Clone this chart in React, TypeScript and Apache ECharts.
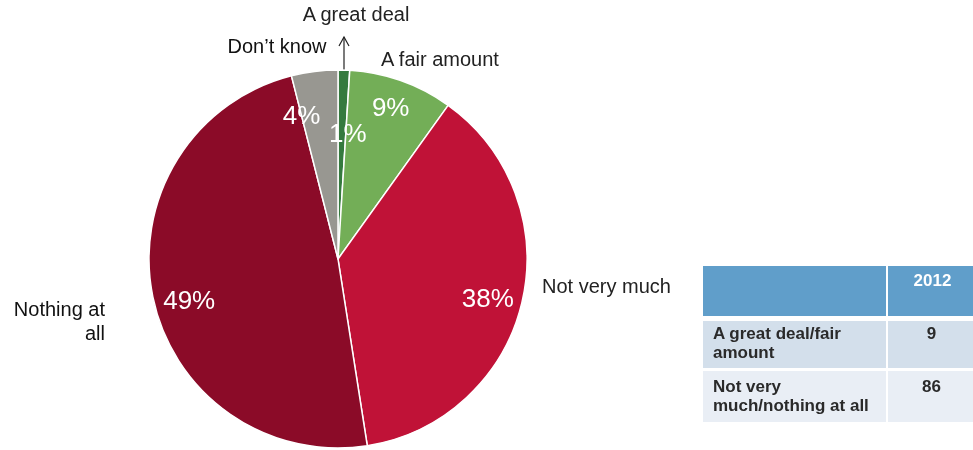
import React, { useEffect, useRef } from "react";
import * as echarts from "echarts";

const categories = ["A great deal", "A fair amount", "Not very much", "Nothing at all", "Don't know"];
const values = [1, 9, 38, 49, 4];
const sliceColors = ["#357a3e", "#73ae57", "#c01237", "#8b0b28", "#989791"];

const tableHeader = ["", "2012"];
const tableRowLabels = ["A great deal/fair\namount", "Not very\nmuch/nothing at all"];
const tableRowValues = ["9", "86"];

// label nudges (layout only)
const labelNudge = [
  [5, 31],
  [0, -4],
  [-3, 3],
  [5, 9],
  [-17, 12],
];

const FONT = "Liberation Sans, Arial, sans-serif";

export default function App() {
  const ref = useRef<HTMLDivElement>(null);
  useEffect(() => {
    if (!ref.current) return;
    const chart = echarts.init(ref.current, undefined, { renderer: "svg" });
    const data = categories.map((c, i) => ({ name: c, value: values[i], itemStyle: { color: sliceColors[i] } }));
    const center = [338, 259];
    const labelTextStyle = { fill: "#222", fontSize: 20, fontFamily: FONT };

    const graphic: any[] = [
      { type: "text", x: 356, y: 14, style: { ...labelTextStyle, text: "A great deal", align: "center", verticalAlign: "middle" } },
      { type: "text", x: 277, y: 46, style: { ...labelTextStyle, fill: "#111", text: "Don\u2019t know", align: "center", verticalAlign: "middle" } },
      { type: "text", x: 440, y: 59, style: { ...labelTextStyle, text: "A fair amount", align: "center", verticalAlign: "middle" } },
      { type: "text", x: 542, y: 286, style: { ...labelTextStyle, text: "Not very much", align: "left", verticalAlign: "middle" } },
      { type: "text", x: 105, y: 321, style: { ...labelTextStyle, fill: "#111", text: "Nothing at\nall", align: "right", verticalAlign: "middle", lineHeight: 24 } },
      { type: "line", shape: { x1: 344, y1: 72, x2: 344, y2: 37 }, style: { stroke: "#222", lineWidth: 1.2 } },
      { type: "polyline", shape: { points: [[339, 46], [344, 37], [349, 46]] }, style: { stroke: "#222", lineWidth: 1.2, fill: null } },
    ];

    const colX = [703, 888];
    const colW = [183, 85];
    const rowY = [266, 321, 371];
    const rowH = [50, 47, 51];
    const rowFill = ["#609eca", "#d3dfeb", "#e9eef5"];
    for (let r = 0; r < 3; r++) {
      for (let c = 0; c < 2; c++) {
        graphic.push({ type: "rect", shape: { x: colX[c], y: rowY[r], width: colW[c], height: rowH[r] }, style: { fill: rowFill[r] } });
      }
    }
    graphic.push({
      type: "text", x: colX[1] + colW[1] / 2 + 2, y: 272,
      style: { text: tableHeader[1], fill: "#fff", fontSize: 17, fontWeight: "bold", fontFamily: FONT, align: "center", verticalAlign: "top" },
    });
    tableRowLabels.forEach((t, i) => {
      const top = rowY[i + 1] + (i === 0 ? 3 : 6);
      graphic.push({
        type: "text", x: 713, y: top,
        style: { text: t, fill: "#2a2a2a", fontSize: 17, fontWeight: "bold", fontFamily: FONT, align: "left", verticalAlign: "top", lineHeight: 19 },
      });
      graphic.push({
        type: "text", x: colX[1] + colW[1] / 2 + 1, y: top,
        style: { text: tableRowValues[i], fill: "#2a2a2a", fontSize: 17, fontWeight: "bold", fontFamily: FONT, align: "center", verticalAlign: "top", lineHeight: 19 },
      });
    });

    chart.setOption({
      animation: false,
      graphic,
      series: [
        {
          type: "pie",
          center,
          radius: [0, 189],
          startAngle: 90,
          clockwise: true,
          silent: true,
          data,
          label: { show: false },
          labelLine: { show: false },
          itemStyle: { borderColor: "#fff", borderWidth: 1.5 },
        },
        {
          type: "pie",
          center,
          radius: [119, 189],
          startAngle: 90,
          clockwise: true,
          silent: true,
          z: 3,
          data: categories.map((c, i) => ({ name: c, value: values[i] })),
          itemStyle: { color: "transparent", borderWidth: 0 },
          label: {
            show: true,
            position: "inside",
            formatter: (p: any) => p.value + "%",
            color: "#fff",
            fontSize: 26,
            fontFamily: FONT,
          },
          labelLine: { show: false },
          labelLayout: (p: any) => ({ dx: labelNudge[p.dataIndex][0], dy: labelNudge[p.dataIndex][1] }),
        },
      ],
    });
    return () => chart.dispose();
  }, []);
  return <div ref={ref} style={{ position: "fixed", left: 0, top: 0, width: 973, height: 450 }} />;
}
